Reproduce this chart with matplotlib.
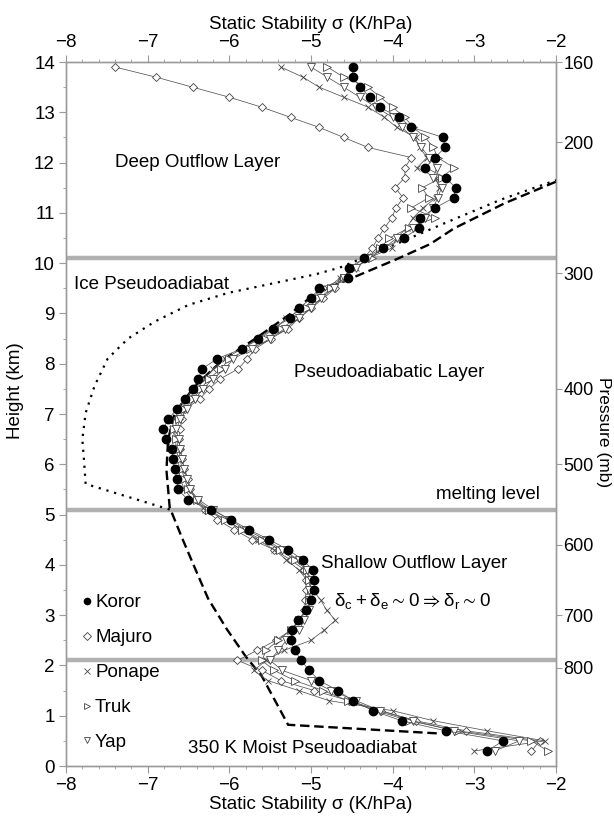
import matplotlib
matplotlib.use("Agg")
import matplotlib.pyplot as plt
from matplotlib.ticker import MultipleLocator

plt.rcParams["font.family"] = ["Liberation Sans", "DejaVu Sans"]
plt.rcParams["mathtext.fontset"] = "custom"
plt.rcParams["mathtext.rm"] = "Liberation Sans"
plt.rcParams["mathtext.default"] = "regular"

# sounding levels (km), shared by all stations
heights = [0.3, 0.5, 0.7, 0.9, 1.1, 1.3, 1.5, 1.7, 1.9, 2.1, 2.3, 2.5, 2.7, 2.9,
           3.1, 3.3, 3.5, 3.7, 3.9, 4.1, 4.3, 4.5, 4.7, 4.9, 5.1, 5.3, 5.5, 5.7,
           5.9, 6.1, 6.3, 6.5, 6.7, 6.9, 7.1, 7.3, 7.5, 7.7, 7.9, 8.1, 8.3, 8.5,
           8.7, 8.9, 9.1, 9.3, 9.5, 9.7, 9.9, 10.1, 10.3, 10.5, 10.7, 10.9, 11.1,
           11.3, 11.5, 11.7, 11.9, 12.1, 12.3, 12.5, 12.7, 12.9, 13.1, 13.3, 13.5,
           13.7, 13.9]

koror = [-2.84, -2.65, -3.35, -3.89, -4.24, -4.49, -4.67, -4.90, -5.02, -5.12,
         -5.20, -5.25, -5.23, -5.16, -5.06, -5.00, -4.96, -4.96, -4.98, -5.10,
         -5.28, -5.51, -5.76, -5.98, -6.22, -6.51, -6.63, -6.64, -6.67, -6.69,
         -6.70, -6.77, -6.81, -6.75, -6.64, -6.54, -6.44, -6.38, -6.33, -6.15,
         -5.84, -5.65, -5.47, -5.26, -5.15, -5.00, -4.90, -4.55, -4.54, -4.35,
         -4.12, -3.86, -3.68, -3.66, -3.48, -3.25, -3.23, -3.35, -3.60, -3.48,
         -3.36, -3.38, -3.77, -3.92, -4.16, -4.28, -4.40, -4.49, -4.49]
majuro = [-2.30, -2.20, -3.10, -3.72, -4.14, -4.54, -4.96, -5.37, -5.60, -5.90,
          -5.66, -5.43, -5.25, -5.12, -5.08, -5.07, -5.06, -5.06, -5.08, -5.25,
          -5.45, -5.72, -5.94, -6.15, -6.30, -6.40, -6.48, -6.50, -6.55, -6.58,
          -6.60, -6.62, -6.60, -6.58, -6.54, -6.36, -6.25, -6.11, -5.89, -5.78,
          -5.68, -5.49, -5.28, -5.15, -5.00, -4.85, -4.70, -4.62, -4.50, -4.35,
          -4.25, -4.18, -4.10, -4.01, -3.96, -3.87, -3.97, -3.85, -3.85, -3.77,
          -4.30, -4.60, -4.90, -5.25, -5.60, -6.00, -6.45, -6.90, -7.40]
ponape = [-3.00, -2.14, -2.84, -3.50, -4.00, -4.78, -5.15, -5.53, -5.70, -5.55,
          -5.33, -5.00, -4.84, -4.70, -4.81, -4.88, -4.98, -5.05, -5.15, -5.30,
          -5.45, -5.65, -5.85, -6.05, -6.30, -6.45, -6.55, -6.60, -6.62, -6.62,
          -6.65, -6.66, -6.70, -6.68, -6.60, -6.50, -6.40, -6.30, -6.20, -6.05,
          -5.85, -5.62, -5.45, -5.30, -5.10, -4.95, -4.80, -4.65, -4.45, -4.30,
          -4.01, -3.95, -3.83, -3.75, -3.63, -3.47, -3.43, -3.47, -3.70, -3.58,
          -3.67, -3.72, -3.95, -4.10, -4.30, -4.60, -4.90, -5.10, -5.37]
truk = [-2.10, -2.30, -3.20, -3.80, -4.20, -4.55, -4.85, -5.20, -5.45, -5.60,
        -5.55, -5.40, -5.25, -5.15, -5.05, -5.02, -5.00, -5.02, -5.05, -5.20,
        -5.38, -5.60, -5.85, -6.05, -6.25, -6.40, -6.50, -6.55, -6.58, -6.60,
        -6.62, -6.65, -6.68, -6.62, -6.55, -6.45, -6.35, -6.25, -6.10, -6.00,
        -5.75, -5.55, -5.35, -5.20, -5.05, -4.90, -4.75, -4.60, -4.50, -4.25,
        -4.15, -4.04, -3.80, -3.48, -3.77, -3.56, -3.64, -3.40, -3.25, -3.45,
        -3.50, -3.60, -3.75, -3.85, -4.00, -4.15, -4.30, -4.60, -4.80]
yap = [-2.75, -2.45, -3.25, -3.75, -4.15, -4.45, -4.75, -5.00, -5.35, -5.50,
       -5.40, -5.30, -5.15, -5.08, -5.02, -5.02, -5.02, -5.00, -5.05, -5.15,
       -5.35, -5.55, -5.80, -6.00, -6.20, -6.38, -6.48, -6.52, -6.55, -6.58,
       -6.60, -6.62, -6.65, -6.60, -6.52, -6.42, -6.32, -6.20, -6.05, -5.95,
       -5.72, -5.50, -5.32, -5.15, -5.00, -4.88, -4.72, -4.60, -4.45, -4.30,
       -4.10, -3.95, -3.75, -3.60, -3.50, -3.45, -3.40, -3.50, -3.46, -3.55,
       -3.65, -3.75, -3.89, -4.00, -4.20, -4.40, -4.60, -4.80, -5.00]

# theoretical profiles
moist_sigma = [-3.46, -5.28, -5.60, -5.80, -6.03, -6.26, -6.42, -6.58, -6.73,
               -6.77, -6.75, -6.67, -6.42, -6.09, -5.68, -5.27, -4.94, -4.49,
               -3.95, -3.54, -3.25, -2.63, -2.00]
moist_z = [0.65, 0.82, 1.78, 2.18, 2.72, 3.33, 3.93, 4.54, 5.14, 5.88, 6.49,
           7.02, 7.56, 8.06, 8.50, 8.97, 9.41, 9.71, 10.08, 10.38, 10.69, 11.19,
           11.62]
ice_sigma = [-6.73, -7.76, -7.78, -7.80, -7.76, -7.65, -7.49, -7.24, -6.91,
             -6.50, -6.01, -5.43, -4.94, -4.65, -4.25, -3.90, -3.37, -2.68, -2.00]
ice_z = [5.10, 5.61, 6.09, 6.49, 7.02, 7.56, 8.10, 8.50, 8.84, 9.17, 9.41,
         9.61, 9.78, 9.91, 10.18, 10.42, 10.79, 11.26, 11.65]

layer_bounds = [10.1, 5.1, 2.1]
pressure_labels = [160, 200, 300, 400, 500, 600, 700, 800]
pressure_heights = [14.0, 12.4, 9.8, 7.5, 6.0, 4.4, 3.0, 1.95]

FS = 13.5
AXC = "#9a9a9a"

fig = plt.figure(figsize=(6.14, 8.17), dpi=100)
ax = fig.add_axes([0.1075, 0.0624, 0.7980, 0.8617])

for z in layer_bounds:
    ax.axhline(z, color="#b0b0b0", lw=3.2, zorder=1)

ax.plot(moist_sigma, moist_z, color="black", lw=1.7, ls=(0, (4, 2)), zorder=3)
ax.plot(ice_sigma, ice_z, color="black", lw=1.6, ls=(0, (1, 2.6)), zorder=3)

line_kw = dict(color="#555555", lw=0.55, zorder=4)
ax.plot(majuro, heights, marker="D", ms=4.4, mfc="white", mec="#444444", mew=0.6,
        label="Majuro", **line_kw)
ax.plot(ponape, heights, marker="x", ms=4.5, mec="#444444", mew=0.6,
        label="Ponape", **line_kw)
ax.plot(truk, heights, marker=">", ms=5.2, mfc="white", mec="#444444", mew=0.6,
        label="Truk", **line_kw)
ax.plot(yap, heights, marker="v", ms=5.2, mfc="white", mec="#444444", mew=0.6,
        label="Yap", **line_kw)
ax.plot(koror, heights, marker="o", ms=6, mfc="black", mec="black",
        label="Koror", **line_kw)

ax.set_xlim(-8, -2)
ax.set_ylim(0, 14)
ax.xaxis.set_major_locator(MultipleLocator(1))
ax.xaxis.set_minor_locator(MultipleLocator(0.2))
ax.yaxis.set_major_locator(MultipleLocator(1))
ax.yaxis.set_minor_locator(MultipleLocator(0.5))
ax.tick_params(which="both", direction="out", color=AXC, labelsize=FS,
               top=True, labeltop=True, right=False, pad=3)
ax.tick_params(which="major", length=5, width=0.8)
ax.tick_params(which="minor", length=2.5, width=0.6)
for s in ax.spines.values():
    s.set_color(AXC)
    s.set_linewidth(1.0)

ax.set_xlabel("Static Stability σ (K/hPa)", fontsize=FS, labelpad=1)
top = ax.secondary_xaxis("top")
top.set_xticks([])
top.spines["top"].set_visible(False)
top.set_xlabel("Static Stability σ (K/hPa)", fontsize=FS, labelpad=24)

ax2 = ax.twinx()
ax2.set_ylim(0, 14)
ax2.set_yticks(pressure_heights)
ax2.set_yticklabels([str(p) for p in pressure_labels])
ax2.tick_params(direction="out", color=AXC, labelsize=13, length=4, width=0.8,
                pad=1.5)
for s in ax2.spines.values():
    s.set_color(AXC)
    s.set_linewidth(1.0)

# side titles placed directly so the right one stays inside the canvas
fig.text(0.026, 1 - 391 / 817, "Height (km)", fontsize=FS, rotation=90,
         ha="center", va="center")
fig.text(0.983, 1 - 432 / 817, "Pressure (mb)", fontsize=12.5, rotation=270,
         ha="center", va="center")

ax.text(-7.9, 9.58, "Ice Pseudoadiabat", fontsize=FS, va="center")
ax.text(-7.4, 12.0, "Deep Outflow Layer", fontsize=FS, va="center")
ax.text(-5.21, 7.82, "Pseudoadiabatic Layer", fontsize=FS, va="center")
ax.text(-2.2, 5.4, "melting level", fontsize=FS, va="center", ha="right")
ax.text(-4.88, 4.03, "Shallow Outflow Layer", fontsize=FS, va="center")
ax.text(-4.72, 3.28, r"$\delta_c + \delta_e \sim 0 \Rightarrow \delta_r \sim 0$",
        fontsize=FS, va="center")
ax.text(-6.5, 0.34, "350 K Moist Pseudoadiabat", fontsize=FS, va="center")

handles, labels = ax.get_legend_handles_labels()
order = [4, 0, 1, 2, 3]
leg = ax.legend([handles[i] for i in order], [labels[i] for i in order],
                loc="lower left", bbox_to_anchor=(0.0, 0.0), frameon=False,
                fontsize=FS, handlelength=0.6, handletextpad=0.15,
                labelspacing=0.95, borderaxespad=0.4)
for h in leg.get_lines():
    h.set_linestyle("none")
    h.set_markersize(4.5)
ax.set_zorder(ax2.get_zorder() + 1)
ax.patch.set_visible(False)

fig.savefig("out.png", dpi=100)
